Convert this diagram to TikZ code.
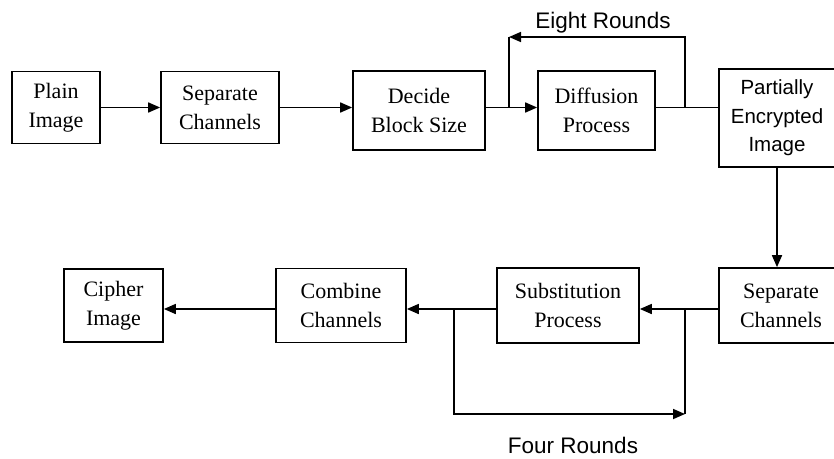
\documentclass[tikz,border=0pt]{standalone}
\usepackage{fontspec}
\setmainfont{Liberation Serif}
\newfontfamily\roundfont{Liberation Sans}
\usetikzlibrary{positioning, arrows.meta}
\tikzstyle{block} = [rectangle, minimum width=118pt, minimum height=72pt, inner sep=0pt, text centered, align=center, draw=black, line width=1.7pt, font=\fontsize{22}{29}\selectfont]
\tikzstyle{sansblock} = [block, font=\roundfont\fontsize{20.5}{28.5}\selectfont]
\tikzstyle{roundtext} = [inner sep=0pt, font=\roundfont\fontsize{22.5}{26}\selectfont]
\tikzstyle{arrow} = [line width=1.7pt, -{Triangle[length=12pt,width=10pt]}]
\tikzstyle{line} = [line width=1.7pt]
\begin{document}
\begin{tikzpicture}[x=1pt, y=-1pt, node distance=160pt]
\useasboundingbox (0,0) rectangle (834,458);
\clip (0,0) rectangle (834,458);

\node (plain) [block, minimum width=88pt] at (56,107.5) {Plain\\Image};
\node (sep1) [block, right of=plain, xshift=4pt] {Separate\\Channels};
\node (decide) [block, right of=sep1, xshift=39pt, yshift=-3pt, minimum width=132pt, minimum height=79pt] {Decide\\Block Size};
\node (diff) [block, right of=decide, xshift=17.5pt, minimum width=117pt, minimum height=79pt] {Diffusion\\Process};
\node (part) [sansblock, right of=diff, xshift=20.5pt, yshift=-7.5pt, minimum width=116pt, minimum height=98pt] {Partially\\Encrypted\\Image};
\node (sep2) [block, below of=part, xshift=4pt, yshift=-27.5pt, minimum width=124pt, minimum height=75pt] {Separate\\Channels};
\node (subst) [block, left of=sep2, xshift=-53pt, minimum width=142pt, minimum height=75pt] {Substitution\\Process};
\node (combine) [block, left of=subst, xshift=-67pt, minimum width=130pt, minimum height=74pt] {Combine\\Channels};
\node (cipher) [block, left of=combine, xshift=-67.5pt, minimum width=99pt, minimum height=73pt] {Cipher\\Image};
\node (eight) [roundtext] at (603,23) {Eight Rounds};
\node (four) [roundtext, anchor=base] at (573,453) {Four Rounds};

% loop points
\coordinate (dsplit) at (509,107.5);
\coordinate (psplit) at (685,107.5);
\coordinate (ltop) at (509,37);
\coordinate (ssplit) at (685,309);
\coordinate (csplit) at (454,309);
\coordinate (lbot) at (685,414);

\draw [arrow] (plain) -- (sep1);
\draw [arrow] (sep1) -- (sep1 -| decide.west);
\draw [arrow] (decide.east |- dsplit) -- (diff.west |- dsplit);
\draw [line] (diff.east |- psplit) -- (part.west |- psplit);
\draw [arrow] (psplit) |- (ltop);
\draw [line] (ltop) -- (dsplit);
\draw [arrow] (part.south) -- (part.south |- sep2.north);
\draw [arrow] (sep2.west |- ssplit) -- (subst.east |- ssplit);
\draw [arrow] (subst.west |- csplit) -- (combine.east |- csplit);
\draw [arrow] (combine.west |- csplit) -- (cipher.east |- csplit);
\draw [arrow] (csplit) |- (lbot);
\draw [line] (lbot) -- (ssplit);

\end{tikzpicture}
\end{document}
